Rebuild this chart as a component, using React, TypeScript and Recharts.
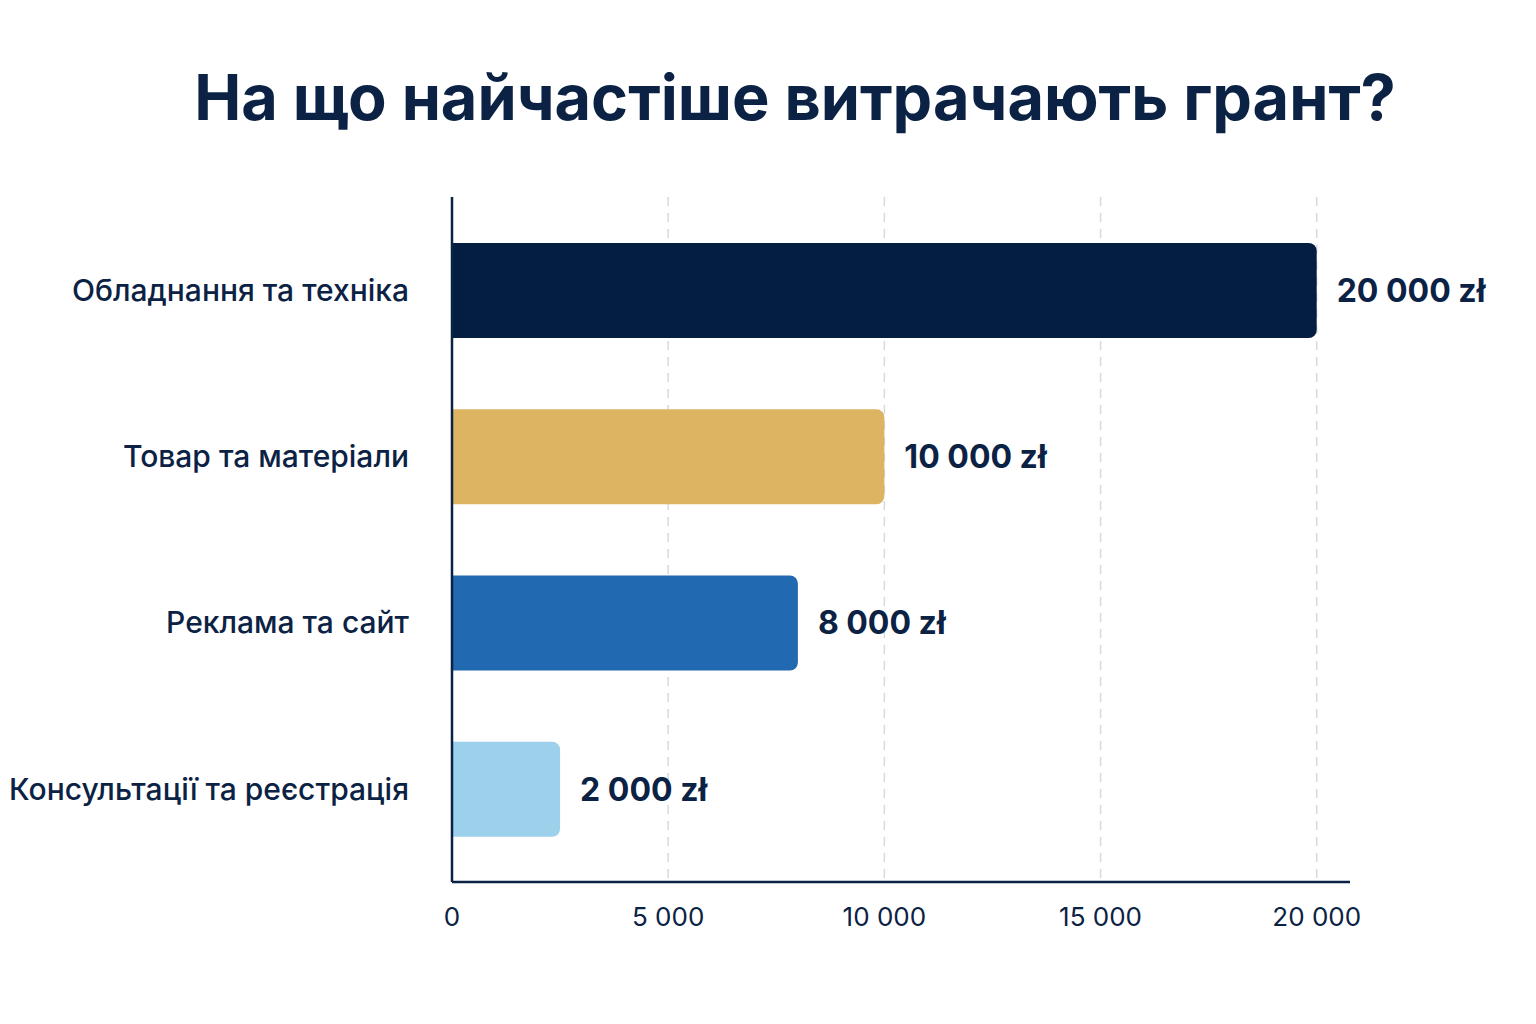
import React from 'react';
import { BarChart, Bar, XAxis, YAxis, CartesianGrid, Cell, LabelList } from 'recharts';

const TITLE = 'На що найчастіше витрачають грант?';

const categories = [
  'Обладнання та техніка',
  'Товар та матеріали',
  'Реклама та сайт',
  'Консультації та реєстрація',
];

// bar lengths as drawn in the picture
const amounts = [20000, 10000, 8000, 2500];
const valueLabels = ['20 000 zł', '10 000 zł', '8 000 zł', '2 000 zł'];
const barColors = ['#041e42', '#ddb462', '#2169b0', '#9dd0ea'];
const xTicks = [0, 5000, 10000, 15000, 20000];
const gridValues = [5000, 10000, 15000, 20000];

const NAVY = '#0b2244';
const FONT = 'Inter, "Noto Sans", sans-serif';

const data = categories.map((name, i) => ({
  name,
  amount: amounts[i],
  label: valueLabels[i],
}));

const fmtTick = (v: number) => (v === 0 ? '0' : `${v / 1000} 000`);

export default function App() {
  return (
    <div
      style={{
        position: 'absolute',
        left: 0,
        top: 0,
        width: 1536,
        height: 1024,
        background: '#fff',
        fontFamily: FONT,
      }}
    >
      <div
        style={{
          position: 'absolute',
          top: 57,
          left: 0,
          width: 1536,
          paddingLeft: 54,
          boxSizing: 'border-box',
          textAlign: 'center',
          fontSize: 63,
          fontWeight: 700,
          color: NAVY,
          lineHeight: '80px',
        }}
      >
        {TITLE}
      </div>
      <div style={{ position: 'absolute', left: 0, top: 0 }}>
        <BarChart
          width={1536}
          height={1000}
          data={data}
          layout="vertical"
          margin={{ top: 197, right: 186, bottom: 58, left: 0 }}
        >
          <CartesianGrid
            horizontal={false}
            verticalValues={gridValues}
            stroke="#d9d9d9"
            strokeDasharray="9 7"
            strokeWidth={1.5}
          />
          <XAxis
            type="number"
            domain={[0, 20770]}
            ticks={xTicks}
            tickFormatter={fmtTick}
            axisLine={{ stroke: NAVY, strokeWidth: 2.5 }}
            tickLine={false}
            tickSize={0}
            tickMargin={26}
            height={60}
            tick={{ fill: NAVY, fontSize: 26, fontFamily: FONT }}
          />
          <YAxis
            type="category"
            dataKey="name"
            width={452}
            axisLine={{ stroke: NAVY, strokeWidth: 2.5 }}
            tickLine={false}
            tickSize={0}
            tickMargin={43}
            padding={{ top: 10, bottom: 10 }}
            tick={{ fill: NAVY, fontSize: 30, fontWeight: 500, fontFamily: FONT }}
          />
          <Bar dataKey="amount" barSize={95} radius={[0, 8, 8, 0]} isAnimationActive={false}>
            {data.map((d, i) => (
              <Cell key={d.name} fill={barColors[i]} />
            ))}
            <LabelList
              dataKey="label"
              position="right"
              offset={20}
              fill={NAVY}
              fontSize={32}
              fontWeight={700}
              fontFamily={FONT}
            />
          </Bar>
        </BarChart>
      </div>
    </div>
  );
}
